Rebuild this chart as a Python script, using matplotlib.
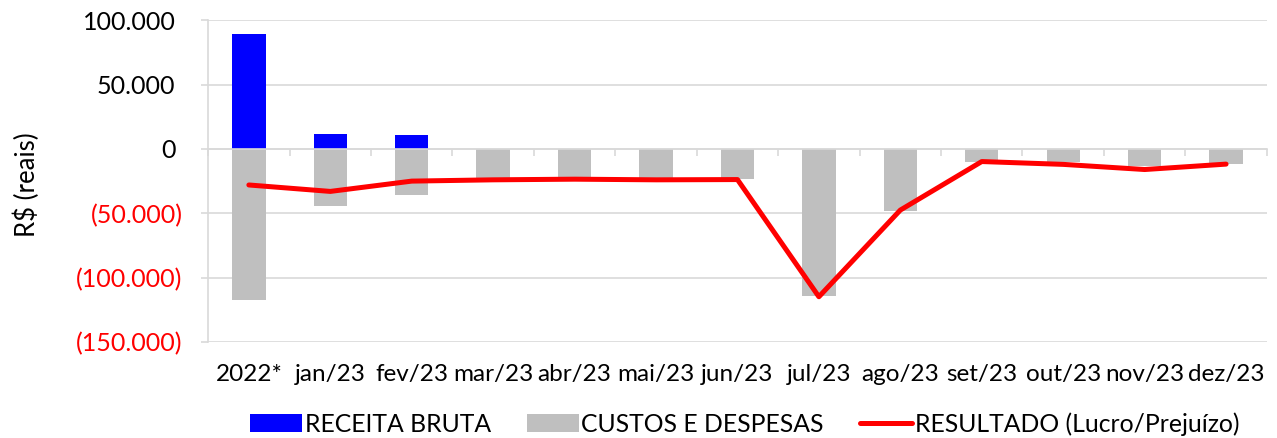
import numpy as np
import matplotlib.pyplot as plt
from matplotlib.ticker import FixedLocator, FuncFormatter

plt.rcParams["font.family"] = ["Lato", "DejaVu Sans"]

categories = ["2022*", "jan/23", "fev/23", "mar/23", "abr/23", "mai/23", "jun/23",
              "jul/23", "ago/23", "set/23", "out/23", "nov/23", "dez/23"]
receita = [89000, 11500, 10500, 0, 0, 0, 0, 0, 0, 0, 0, 0, 0]
custos = [-117000, -44500, -35500, -22500, -22000, -23000, -23500,
          -114500, -48000, -9800, -10000, -13500, -11800]
resultado = [-28000, -33000, -25000, -24000, -23500, -24000, -23800,
             -114800, -47500, -9800, -12000, -16000, -11800]
yticks = [100000, 50000, 0, -50000, -100000, -150000]

x = np.arange(len(categories))
grid_col = "#d9d9d9"

fig = plt.figure(figsize=(12.77, 4.38), dpi=100)
ax = fig.add_axes([0.163, 0.219, 0.829, 0.735])

ax.bar(x, receita, width=0.41, color="#0000ff", label="RECEITA BRUTA", zorder=2)
ax.bar(x, custos, width=0.41, color="#bfbfbf", label="CUSTOS E DESPESAS", zorder=2)
ax.plot(x, resultado, color="#ff0000", lw=3.6, solid_capstyle="round",
        label="RESULTADO (Lucro/Prejuízo)", zorder=3)

ax.set_xlim(-0.5, len(categories) - 0.5)
ax.set_ylim(-150000, 100000)
ax.set_yticks(yticks)
ax.yaxis.grid(True, color=grid_col, lw=1.2, zorder=0)
ax.set_axisbelow(True)


def fmt(v, pos):
    s = f"{abs(int(v)):,}".replace(",", ".")
    return f"({s})" if v < 0 else s


ax.yaxis.set_major_formatter(FuncFormatter(fmt))
ax.tick_params(axis="y", length=5, width=1.2, color=grid_col, labelsize=18, pad=13.5)
# negatives hang their closing bracket past the digits, like Excel does
for tick, v in zip(ax.yaxis.get_major_ticks(), yticks):
    tick.label1.set_color("red" if v < 0 else "black")
    if v >= 0:
        tick.set_pad(18.5)

ax.set_ylabel("R$ (reais)", fontsize=18.5)
ax.yaxis.set_label_coords(-0.159, 0.488)

for side in ["top", "right"]:
    ax.spines[side].set_visible(False)
ax.spines["left"].set_color(grid_col)
ax.spines["left"].set_linewidth(1.2)
ax.spines["bottom"].set_position(("data", 0))
ax.spines["bottom"].set_color(grid_col)
ax.spines["bottom"].set_linewidth(1.2)

# category axis drawn at zero with tick marks between categories
ax.xaxis.set_major_locator(FixedLocator(np.arange(-0.5, len(categories), 1.0)))
ax.tick_params(axis="x", length=5, width=1.2, color=grid_col, labelbottom=False)

sec = ax.secondary_xaxis("bottom")
sec.set_xticks(x)
sec.set_xticklabels(categories)
sec.tick_params(length=0, labelsize=17.5, pad=16)
sec.spines["bottom"].set_visible(False)

handles, labels = ax.get_legend_handles_labels()
order = [1, 2, 0]
fig.legend([handles[i] for i in order], [labels[i] for i in order],
           loc="center", bbox_to_anchor=(0.583, 0.032), ncol=3,
           frameon=False, fontsize=17.8, handlelength=2.1, handletextpad=0.12,
           columnspacing=1.45, borderpad=0, borderaxespad=0)

fig.savefig("out.png", dpi=100)
